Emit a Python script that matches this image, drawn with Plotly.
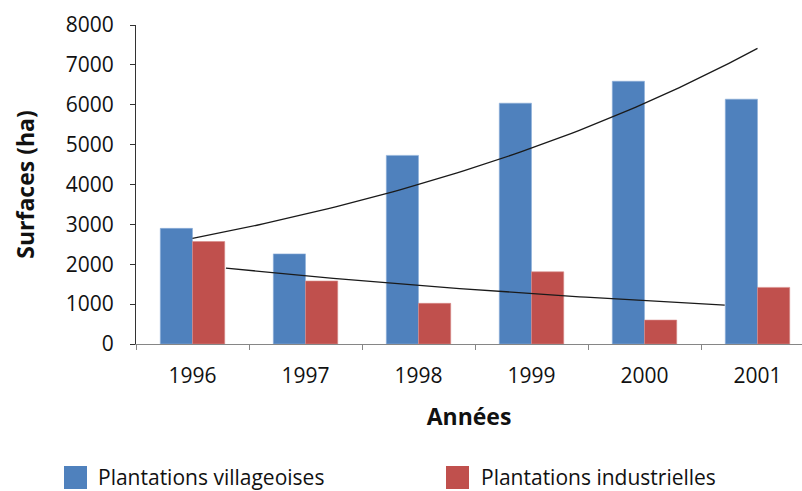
import numpy as np
import plotly.graph_objects as go

# ---- data ----
years = ["1996", "1997", "1998", "1999", "2000", "2001"]
villageoises = [2900, 2260, 4730, 6040, 6590, 6140]
industrielles = [2570, 1580, 1020, 1810, 600, 1420]
series_names = ["Plantations villageoises", "Plantations industrielles"]
y_ticks = [0, 1000, 2000, 3000, 4000, 5000, 6000, 7000, 8000]

# ---- style ----
BLUE = "#4F81BD"
RED = "#C0504D"
FONT = "Open Sans"
W, H = 802, 491
ML, MR, MT, MB = 136, 0, 25, 147
PW, PH = W - ML - MR, H - MT - MB

idx = np.arange(len(years))


def expfit(vals):
    b, ln_a = np.polyfit(idx, np.log(vals), 1)
    return lambda x: np.exp(ln_a) * np.exp(b * x)


fit_v = expfit(villageoises)
fit_i = expfit(industrielles)
xv = np.linspace(0, 5, 80)
xi = np.linspace(0.296, 4.71, 80)

fig = go.Figure()
fig.add_trace(go.Bar(x=idx, y=villageoises, name=series_names[0],
                     marker=dict(color=BLUE, line=dict(color="#8FB0DA", width=0.6))))
fig.add_trace(go.Bar(x=idx, y=industrielles, name=series_names[1],
                     marker=dict(color=RED, line=dict(color="#D98A88", width=0.6))))
fig.add_trace(go.Scatter(x=xv, y=fit_v(xv), mode="lines",
                         line=dict(color="#1a1a1a", width=1.3), hoverinfo="skip"))
fig.add_trace(go.Scatter(x=xi, y=fit_i(xi), mode="lines",
                         line=dict(color="#1a1a1a", width=1.3), hoverinfo="skip"))


def pxx(p):
    return (p - ML) / PW


def pxy(p):
    return (H - MB - p) / PH


# manual legend (large swatches as in the reference)
shapes = []
annotations = []
for (x0, tx), color, name in zip([(64, 96), (446, 479)], [BLUE, RED], series_names):
    shapes.append(dict(type="rect", xref="paper", yref="paper",
                       x0=pxx(x0), x1=pxx(x0 + 23), y0=pxy(489), y1=pxy(466),
                       fillcolor=color, line=dict(width=0)))
    annotations.append(dict(xref="paper", yref="paper", x=pxx(tx), y=pxy(477),
                            xanchor="left", yanchor="middle", showarrow=False,
                            text=name, font=dict(family=FONT, size=21, color="#111")))

fig.update_layout(
    width=W, height=H,
    margin=dict(l=ML, r=MR, t=MT, b=MB, autoexpand=False),
    plot_bgcolor="white", paper_bgcolor="white",
    barmode="group", bargap=0.43, bargroupgap=0,
    showlegend=False,
    shapes=shapes, annotations=annotations,
    font=dict(family=FONT, color="#111"),
)
fig.update_xaxes(
    range=[-0.5, -0.5 + PW / 113], tickvals=idx, ticktext=years,
    ticks="", showgrid=False, zeroline=False,
    showline=True, linecolor="#868686", linewidth=1.2,
    tickfont=dict(family=FONT, size=21, color="#111"),
    ticklabelstandoff=13,
    minor=dict(tickvals=idx - 0.5, ticks="outside", ticklen=5, tickcolor="#868686", tickwidth=1),
    title=dict(text="<b>Années</b>", font=dict(family=FONT, size=23, color="#111"), standoff=20),
    automargin=False,
)
fig.update_yaxes(
    range=[0, 8000], tickvals=y_ticks, ticks="outside", ticklen=5,
    tickcolor="#333", showgrid=False, zeroline=False,
    showline=True, linecolor="#333", linewidth=1,
    tickfont=dict(family=FONT, size=21, color="#111"),
    ticklabelstandoff=12,
    title=dict(text="<b>Surfaces (ha)</b>", font=dict(family=FONT, size=23, color="#111"), standoff=24),
    automargin=False,
)

fig.write_html("out.html", config={"displayModeBar": False},
               post_script="document.body.style.margin='0px';")
